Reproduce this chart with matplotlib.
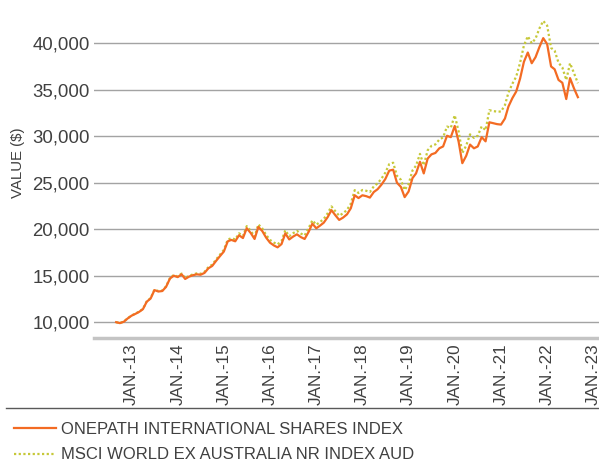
import pandas as pd
import matplotlib.pyplot as plt
import matplotlib.dates as mdates
from matplotlib.lines import Line2D
from matplotlib.ticker import FixedLocator, FuncFormatter

plt.rcParams['font.family'] = ['Liberation Sans', 'DejaVu Sans']

# monthly growth of $10,000, Sep 2012 - Sep 2022
start_month = '2012-09-01'

onepath = [
    10000, 9900, 10050, 10400, 10700, 10900, 11100, 11400, 12200, 12550,
    13450, 13300, 13350, 13800, 14700, 15000, 14850, 15150, 14650, 14900,
    15050, 15150, 15100, 15300, 15800, 16050, 16600, 17100, 17600, 18700,
    18850, 18700, 19350, 19050, 20100, 19600, 18950, 20250, 19800, 19100,
    18550, 18250, 18050, 18400, 19550, 18900, 19200, 19450, 19150, 18950,
    19700, 20600, 20100, 20400, 20700, 21300, 22050, 21500, 21000, 21250,
    21600, 22250, 23650, 23350, 23650, 23550, 23400, 24000, 24300, 24800,
    25400, 26300, 26400, 25000, 24550, 23450, 24050, 25500, 26000, 27250,
    26000, 27600, 28050, 28200, 28700, 28900, 30050, 29900, 31100, 29400,
    27100, 27900, 29100, 28700, 28900, 29900, 29450, 31500, 31400, 31300,
    31250, 31900, 33200, 34100, 34800, 36200, 38000, 39000, 37850, 38500,
    39600, 40550, 39900, 37500, 37200, 36050, 35750, 34000, 36250, 35150,
    34200,
]

msci = [
    10000, 9920, 10070, 10420, 10720, 10930, 11130, 11430, 12240, 12590,
    13500, 13350, 13400, 13860, 14760, 15070, 14920, 15230, 14730, 14990,
    15140, 15250, 15210, 15420, 15930, 16190, 16750, 17260, 17780, 18880,
    19040, 18900, 19560, 19270, 20330, 19840, 19200, 20510, 20080, 19390,
    18850, 18560, 18370, 18730, 19890, 19250, 19560, 19820, 19530, 19340,
    20100, 20960, 20480, 20790, 21100, 21710, 22450, 21930, 21450, 21710,
    22080, 22750, 24200, 23900, 24220, 24130, 24000, 24610, 24930, 25450,
    26080, 27000, 27150, 25750, 25320, 24220, 24850, 26320, 26840, 28100,
    26870, 28490, 28960, 29120, 29640, 29870, 31040, 30900, 32250, 30500,
    28200, 29000, 30200, 29820, 30050, 31050, 30650, 32800, 32700, 32650,
    32650, 33350, 34700, 35650, 36400, 37900, 39750, 40750, 40000, 40500,
    41600, 42400, 41900, 39500, 39200, 37900, 37400, 36050, 37850, 36800,
    35700,
]

labels = ['ONEPATH INTERNATIONAL SHARES INDEX',
          'MSCI WORLD EX AUSTRALIA NR INDEX AUD']
years = list(range(2013, 2024))
y_ticks = [10000, 15000, 20000, 25000, 30000, 35000, 40000]

months = pd.date_range(start_month, periods=len(onepath), freq='MS')

W, H = 599, 469
fig = plt.figure(figsize=(W / 100, H / 100), dpi=100)
ax = fig.add_axes([94 / W, 1 - 338 / H, 1 - 94 / W, 338 / H])

ax.plot(months, onepath, color='#F36B23', lw=1.6, label=labels[0], zorder=3)
ax.plot(months, msci, color='#C6C838', lw=1.6, ls=(0, (1, 1.1)),
        label=labels[1], zorder=2)

ax.set_ylim(8300, 44650)
ax.set_xlim(pd.Timestamp('2012-03-10'), pd.Timestamp('2023-02-15'))

ax.yaxis.set_major_locator(FixedLocator(y_ticks))
ax.yaxis.set_major_formatter(FuncFormatter(lambda v, p: f'{v:,.0f}'))
ticks = [mdates.date2num(pd.Timestamp(f'{y}-01-01')) for y in years]
ax.xaxis.set_major_locator(FixedLocator(ticks))
ax.set_xticklabels([f'JAN.-{y % 100:02d}' for y in years], rotation=90)

ax.tick_params(axis='y', length=0, pad=3, labelsize=13.4, labelcolor='#404040')
ax.tick_params(axis='x', length=0, pad=4, labelsize=12.3, labelcolor='#404040')
ax.grid(axis='y', color='#a3a3a3', lw=1.0)
ax.set_axisbelow(True)

for s in ['top', 'right', 'left']:
    ax.spines[s].set_visible(False)
ax.spines['bottom'].set_color('#c4c4c4')
ax.spines['bottom'].set_linewidth(2.5)

ax.set_ylabel('VALUE ($)', fontsize=10.8, color='#404040')
ax.yaxis.set_label_coords(-69 / 505, 0.52)

# separator under the date labels
fig.add_artist(Line2D([6 / W, 599 / W], [1 - 408 / H, 1 - 408 / H],
                      color='#595959', lw=1.0))

fig.legend(loc='upper left', bbox_to_anchor=(14 / W, 1 - 422 / H),
           frameon=False, fontsize=12, labelcolor='#404040',
           handlelength=2.5, handletextpad=0.3, labelspacing=0.62,
           borderaxespad=0, borderpad=0)

fig.savefig('out.png', dpi=100)
